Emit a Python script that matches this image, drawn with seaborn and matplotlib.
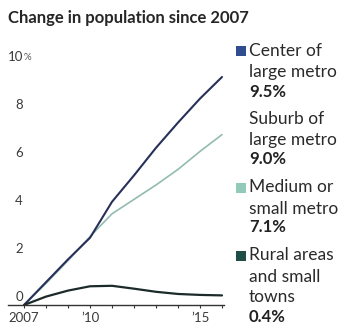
import matplotlib
matplotlib.use("Agg")
import matplotlib.pyplot as plt
import seaborn as sns
import pandas as pd
from matplotlib.patches import Rectangle

# Cumulative population change since 2007, percent
years = [2007, 2008, 2009, 2010, 2011, 2012, 2013, 2014, 2015, 2016]
center_large_metro = [0.0, 0.95, 1.9, 2.8, 4.3, 5.4, 6.55, 7.6, 8.6, 9.5]
suburb_large_metro = [0.0, 0.9, 1.85, 2.75, 3.8, 4.9, 5.9, 6.95, 8.0, 9.0]
medium_small_metro = [0.0, 0.9, 1.85, 2.85, 3.8, 4.4, 5.0, 5.65, 6.4, 7.1]
rural_small_towns = [0.0, 0.35, 0.6, 0.78, 0.8, 0.68, 0.55, 0.46, 0.42, 0.4]

series_names = ["Center of\nlarge metro", "Suburb of\nlarge metro",
                "Medium or\nsmall metro", "Rural areas\nand small\ntowns"]
series_values = [center_large_metro, suburb_large_metro,
                 medium_small_metro, rural_small_towns]
end_labels = ["9.5%", "9.0%", "7.1%", "0.4%"]

y_ticks = [0, 2, 4, 6, 8, 10]
x_ticks = years
x_tick_labels = ["2007", "", "", "\u201910", "", "", "", "", "\u201915", ""]

line_colors = ["#28305a", "#ffffff", "#93bcae", "#1c2b29"]
swatch_colors = ["#2f4d8f", "#ffffff", "#93c9b9", "#1f4e46"]
line_widths = [1.5, 1.2, 1.2, 1.6]

sns.set_theme(style="white")
plt.rcParams["font.family"] = ["Lato", "DejaVu Sans"]

df = pd.DataFrame(
    [(y, v, name) for name, vals in zip(series_names, series_values)
     for y, v in zip(years, vals)],
    columns=["year", "change", "type"],
)

W, H = 338, 328
fig = plt.figure(figsize=(W / 100, H / 100), dpi=100)

# axes placement in pixels
x0_px, x1_px = 8, 224
y0_px = 305
px_per_year = 22.0
px_per_unit = 24.0
xlim = (2007 - (24 - x0_px) / px_per_year, 2007 + (x1_px - 24) / px_per_year)
ytop = 10.3
ax = fig.add_axes([x0_px / W, (H - y0_px) / H, (x1_px - x0_px) / W,
                   ytop * px_per_unit / H])

order = [1, 2, 0, 3]
for i in order:
    sub = df[df["type"] == series_names[i]]
    sns.lineplot(data=sub, x="year", y="change", color=line_colors[i],
                 lw=line_widths[i], ax=ax, legend=False,
                 zorder=2 + order.index(i))
for ln in ax.lines:
    ln.set_clip_on(False)
    ln.set_solid_capstyle("round")

ax.set_xlim(*xlim)
ax.set_ylim(0, ytop)
ax.set_xlabel("")
ax.set_ylabel("")
for s in ["top", "right", "left"]:
    ax.spines[s].set_visible(False)
ax.spines["bottom"].set_color("#333333")
ax.spines["bottom"].set_linewidth(1.0)
ax.spines["bottom"].set_zorder(10)
ax.set_yticks([])
ax.set_xticks(x_ticks)
ax.set_xticklabels(x_tick_labels)
ax.tick_params(axis="x", length=2.4, width=0.8, color="#333333",
               direction="out", bottom=True, pad=2.5, labelsize=9.5,
               labelcolor="#3a3a3a")

# y value labels, sitting just above their level
lab_x = 2007 - 1.2 / px_per_year
for v in y_ticks:
    yv = v + 8 / px_per_unit
    ax.text(lab_x, yv, str(v), ha="right", va="center", fontsize=9.5,
            color="#3a3a3a", clip_on=False)
    if v == 10:
        ax.text(lab_x + 0.02, yv, "%", ha="left", va="center", fontsize=7,
                color="#555555", clip_on=False)

# title
fig.text(8 / W, 1 - 18 / H, "Change in population since 2007", ha="left",
         va="center", fontsize=12, fontweight="bold", color="#262626")

# side legend
block_rows = [[50.7, 72.5, 91.5], [118.5, 140, 159.5], [187, 208.5, 227.5],
              [255, 276.5, 297.5, 317]]
for name, label, rows, sc in zip(series_names, end_labels, block_rows,
                                 swatch_colors):
    lines = name.split("\n")
    for txt, yy in zip(lines, rows):
        fig.text(249 / W, 1 - yy / H, txt, ha="left", va="center",
                 fontsize=12.5, color="#2a2a2a")
    fig.text(249 / W, 1 - rows[-1] / H, label, ha="left", va="center",
             fontsize=12, fontweight="bold", color="#222222")
    fig.add_artist(Rectangle((236 / W, 1 - (rows[0] + 5.5) / H), 10 / W,
                             10 / H, transform=fig.transFigure,
                             facecolor=sc, edgecolor="none"))

fig.savefig("out.png", dpi=100)
